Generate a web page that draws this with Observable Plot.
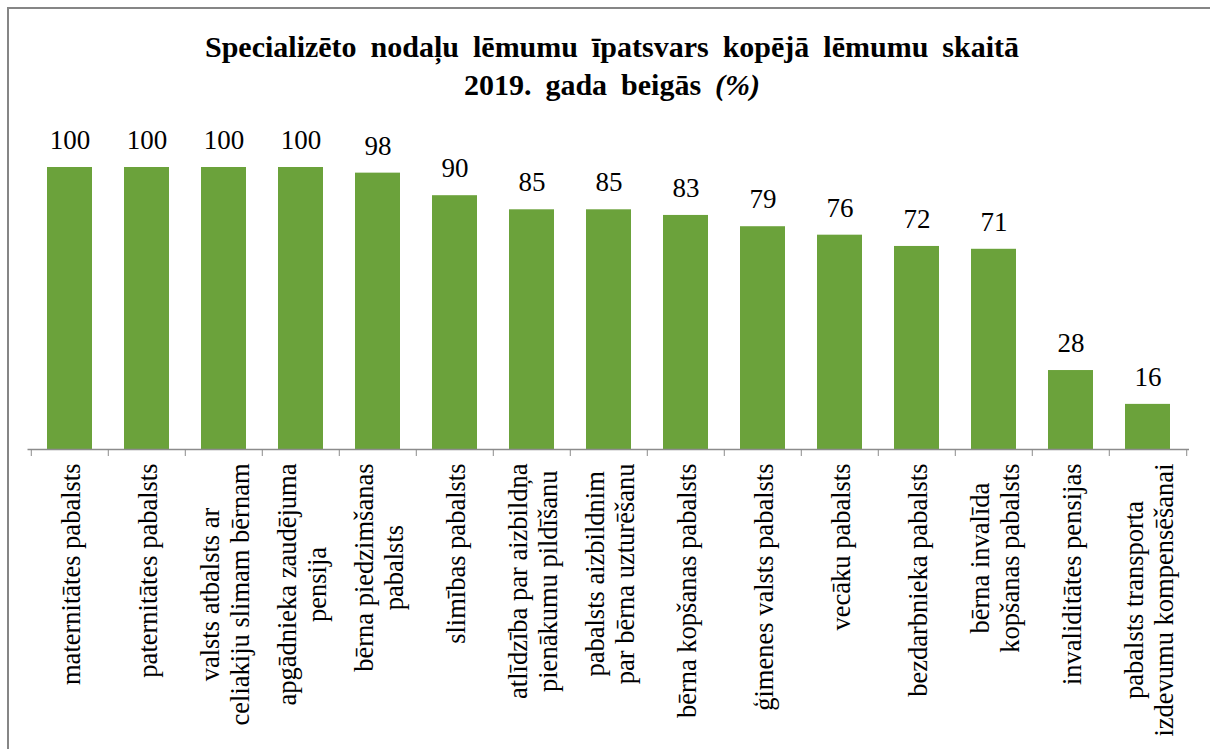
<!DOCTYPE html>
<html><head><meta charset="utf-8">
<script src="https://cdn.jsdelivr.net/npm/d3@7"></script>
<script src="https://cdn.jsdelivr.net/npm/@observablehq/plot@0.6"></script>
<style>
html,body{margin:0;padding:0;background:#fff;}
#wrap{position:relative;width:1210px;height:749px;overflow:hidden;font-family:"Liberation Serif";}
#frame{position:absolute;left:7px;top:7px;width:1300px;height:800px;border-top:2px solid #868686;border-left:2px solid #868686;}
#title{position:absolute;left:0;top:28px;width:1224px;text-align:center;font-weight:bold;font-size:30px;line-height:38px;word-spacing:6.5px;color:#000;font-family:"Liberation Serif";}
#chart{position:absolute;left:0;top:120px;}
</style></head><body>
<div id="wrap">
<div id="frame"></div>
<div id="title">Specializēto nodaļu lēmumu īpatsvars kopējā lēmumu skaitā<br>2019. gada beigās <i>(%)</i></div>
<div id="chart"></div>
</div>
<script>
const categories = [
  "maternitātes pabalsts",
  "paternitātes pabalsts",
  "valsts atbalsts ar celiakiju slimam bērnam",
  "apgādnieka zaudējuma pensija",
  "bērna piedzimšanas pabalsts",
  "slimības pabalsts",
  "atlīdzība par aizbildņa pienākumu pildīšanu",
  "pabalsts aizbildnim par bērna uzturēšanu",
  "bērna kopšanas pabalsts",
  "ģimenes valsts pabalsts",
  "vecāku pabalsts",
  "bezdarbnieka pabalsts",
  "bērna invalīda kopšanas pabalsts",
  "invaliditātes pensijas",
  "pabalsts transporta izdevumu kompensēšanai"
];
const tickLabels = [
  "maternitātes pabalsts",
  "paternitātes pabalsts",
  "valsts atbalsts ar\nceliakiju slimam bērnam",
  "apgādnieka zaudējuma\npensija",
  "bērna piedzimšanas\npabalsts",
  "slimības pabalsts",
  "atlīdzība par aizbildņa\npienākumu pildīšanu",
  "pabalsts aizbildnim\npar bērna uzturēšanu",
  "bērna kopšanas pabalsts",
  "ģimenes valsts pabalsts",
  "vecāku pabalsts",
  "bezdarbnieka pabalsts",
  "bērna invalīda\nkopšanas pabalsts",
  "invaliditātes pensijas",
  "pabalsts transporta\nizdevumu kompensēšanai"
];
const values = [100, 100, 100, 100, 98, 90, 85, 85, 83, 79, 76, 72, 71, 28, 16];

const data = categories.map((c, i) => ({cat: c, value: values[i]}));

const FONT = "Liberation Serif";
const W = 1210, H = 629;
const mL = 27.5, mR = 21, mT = 47, mB = 300;
const step = (W - mL - mR) / categories.length;
const labelSize = 26.5;
const canvas = document.createElement("canvas");
const ctx = canvas.getContext("2d");
ctx.font = `${labelSize}px "${FONT}"`;
const maxW = tickLabels.map(t => Math.max(...t.split("\n").map(s => ctx.measureText(s).width)));

const labelMarks = categories.map((c, i) => Plot.text([c], {
  x: d => d,
  frameAnchor: "bottom",
  text: () => tickLabels[i],
  rotate: -90,
  textAnchor: "middle",
  lineAnchor: "middle",
  lineHeight: 1.13,
  fontSize: labelSize,
  fontFamily: FONT,
  fill: "#000",
  dy: 14 + maxW[i] / 2
}));

const chart = Plot.plot({
  width: W, height: H,
  marginLeft: mL, marginRight: mR, marginTop: mT, marginBottom: mB,
  style: {fontFamily: FONT, background: "transparent", overflow: "visible"},
  x: {type: "band", domain: categories, paddingInner: 0.42, paddingOuter: 0.21, axis: null, label: null},
  y: {domain: [0, 100], axis: null},
  marks: [
    Plot.barY(data, {x: "cat", y: "value", fill: "#6ba23b"}),
    Plot.ruleY([0], {stroke: "#8c8c8c", strokeWidth: 1.3}),
    Plot.axisX({tickSize: 7, tickFormat: () => "", label: null, dx: -step / 2, stroke: "#8c8c8c"}),
    Plot.axisX([categories[categories.length - 1]], {tickSize: 7, tickFormat: () => "", label: null, dx: step / 2, stroke: "#8c8c8c"}),
    Plot.text(data, {x: "cat", y: "value", text: d => String(d.value), dy: -27, fontSize: 27, fontFamily: FONT, fill: "#000"}),
    ...labelMarks
  ]
});
document.getElementById("chart").append(chart);
</script>
</body></html>
